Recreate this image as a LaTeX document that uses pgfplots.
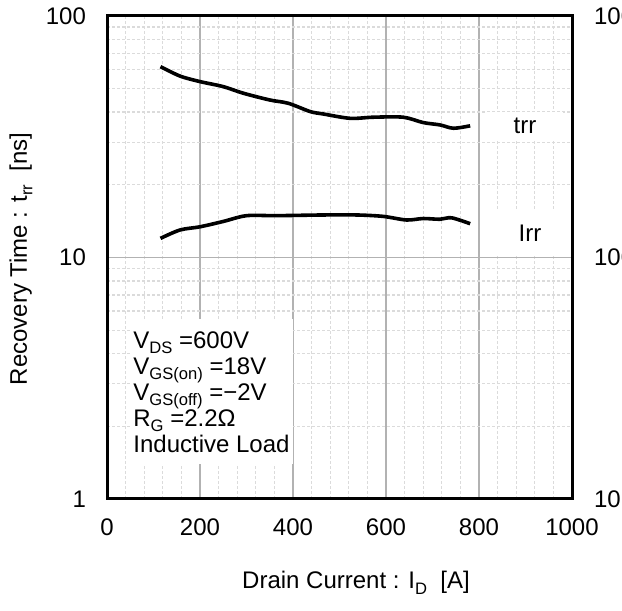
\documentclass[border=0pt]{standalone}
\usepackage{fontspec}
\setmainfont{Liberation Sans}
\usepackage{pgfplots}
\pgfplotsset{compat=1.18}
\newcommand{\sub}[1]{\raisebox{-2.8pt}{\fontsize{8.3}{8.3}\selectfont #1}}
\begin{document}
\begin{tikzpicture}[x=1pt,y=1pt]
\useasboundingbox (0,0) rectangle (311,305.5);
\begin{axis}[
  at={(53.5pt,56pt)}, anchor=south west,
  scale only axis, width=232.5pt, height=241.5pt,
  xmin=0, xmax=1000, ymode=log, ymin=1, ymax=100,
  xtick={0,200,400,600,800,1000}, xticklabels={0,200,400,600,800,1000},
  minor x tick num=4,
  ytick={1,10,100}, yticklabels={1,10,100},
  grid=both,
  major grid style={gray!60, line width=0.6pt},
  minor grid style={gray!28, dash pattern=on 1.5pt off 1pt, line width=0.6pt},
  axis line style={line width=1.5pt},
  tick style={draw=none},
  font=\fontsize{12}{14}\selectfont,
  xticklabel style={yshift=-6.5pt},
  yticklabel style={xshift=-7pt},
]
\addplot[black, line width=1.8pt, smooth] coordinates {
(115,61.7) (157,56.4) (200,53.5) (250,51.0) (293,47.9) (350,44.9) (390,43.5)
(437,40.2) (465,39.3) (523,37.7) (573,38.1) (637,38.1) (680,36.2) (716,35.4)
(745,34.3) (781,35.1)};
\addplot[black, line width=1.8pt, smooth] coordinates {
(115,12.0) (157,13.0) (200,13.4) (250,14.1) (300,14.9) (364,14.9) (465,15.0)
(537,15.0) (594,14.8) (644,14.3) (680,14.5) (716,14.4) (741,14.6) (781,13.8)};
\end{axis}
\begin{axis}[
  at={(53.5pt,56pt)}, anchor=south west,
  scale only axis, width=232.5pt, height=241.5pt,
  xmin=0, xmax=1000, ymode=log, ymin=10, ymax=1000,
  axis x line=none, axis y line*=right,
  ytick={10,100,1000}, yticklabels={10,100,1000},
  axis line style={line width=1.5pt},
  tick style={draw=none},
  font=\fontsize{12}{14}\selectfont,
  yticklabel style={xshift=7.5pt},
]
\end{axis}
\node[fill=white, align=left, anchor=north west, inner xsep=1.5pt, inner ysep=6pt,
      font=\fontsize{12}{13}\selectfont] at (65pt,146pt)
 {V\sub{DS} =600V\\
  V\sub{GS(on)} =18V\\
  V\sub{GS(off)} =−2V\\
  R\sub{G} =2.2Ω\\
  Inductive Load};
\node[fill=white, minimum width=38pt, minimum height=14pt, inner sep=0pt,
      font=\fontsize{12}{14}\selectfont] at (262.5pt,242.5pt) {trr};
\node[fill=white, minimum width=41pt, minimum height=22pt, inner sep=0pt,
      font=\fontsize{12}{14}\selectfont] at (265pt,189pt) {Irr};
\node[rotate=90, font=\fontsize{12}{14}\selectfont] at (10.5pt,176pt)
 {Recovery Time : t\sub{rr}\ \ [ns]};
\node[font=\fontsize{12}{14}\selectfont] at (178pt,14pt)
 {Drain Current : I\sub{D}\ \ [A]};
\end{tikzpicture}
\end{document}
